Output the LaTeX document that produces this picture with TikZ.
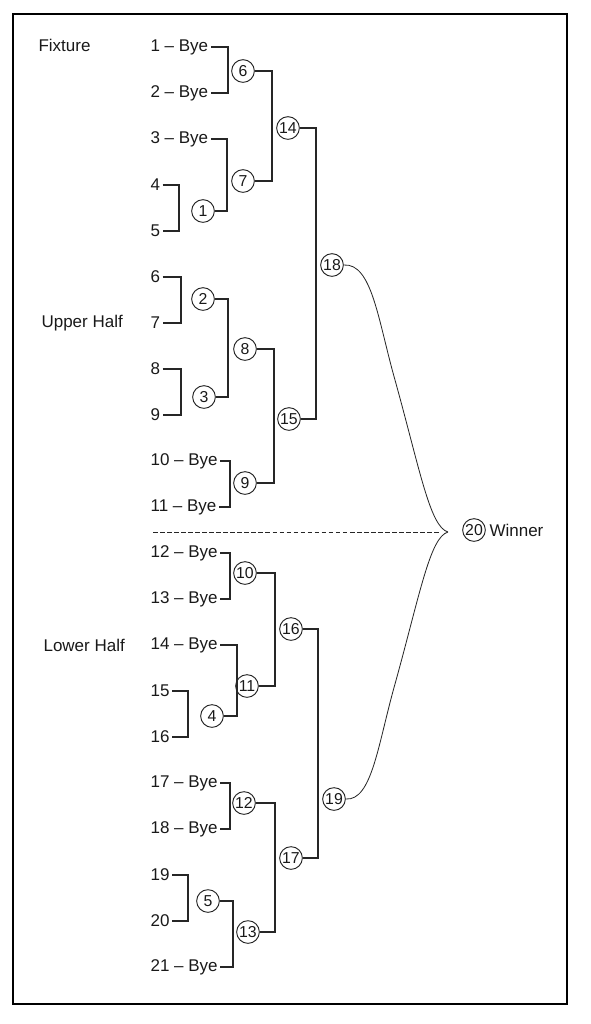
\documentclass[tikz,border=0pt]{standalone}
\usepackage{fontspec}
\setmainfont{Liberation Sans}
\usetikzlibrary{positioning}

\begin{document}
\begin{tikzpicture}[x=0.03cm, y=-0.03cm,
        every node/.style={font=\fontsize{14.5}{17}\selectfont, text=black!90},
        entry/.style={anchor=west, inner sep=2pt},
        game/.style={circle, draw=black!85, line width=0.8pt, minimum size=0.68cm,
                     inner sep=0pt, font=\fontsize{13.5}{15}\selectfont},
        link/.style={line width=0.95pt, draw=black!85}]
        \useasboundingbox (0,0) rectangle (591,1024);

        % Frame
        \draw[line width=1.6pt] (13,14) rectangle (567,1004);

        % Side titles
        \node[entry] (fixture) at (36,45) {Fixture};
        \node[entry] (upper) at (39,323) {Upper Half};
        \node[entry] (lower) at (41,645) {Lower Half};

        % Teams
        \foreach \i/\txt in {1/1 -- Bye, 2/2 -- Bye, 3/3 -- Bye, 4/4, 5/5, 6/6, 7/7, 8/8, 9/9,
                10/10 -- Bye, 11/11 -- Bye, 12/12 -- Bye, 13/13 -- Bye, 14/14 -- Bye,
                15/15, 16/16, 17/17 -- Bye, 18/18 -- Bye, 19/19, 20/20, 21/21 -- Bye}
            \node[entry] (t\i) at (148,{47+46*(\i-1)}) {\txt};

        % Matches
        \foreach \n/\x/\y in {1/203/211, 2/203/299, 3/204/397, 4/212/716, 5/208/901,
                6/243/71, 7/243/181, 8/245/349, 9/245/483, 10/245/573, 11/247/686,
                12/244/803, 13/248/932, 14/288/128, 15/289/419, 16/291/629,
                17/291/858, 18/332/265, 19/334/799, 20/474/530}
            \node[game] (m\n) at (\x,\y) {\n};

        % Upper half brackets
        \draw[link] (t1.east) -- (t1.east -| 228,0) |- (t2.east);
        \draw[link] (t3.east) -- (t3.east -| 227,0) |- (m1.east);
        \draw[link] (t4.east) -- (t4.east -| 179,0) |- (t5.east);
        \draw[link] (m6.east) -- (m6.east -| 272,0) |- (m7.east);
        \draw[link] (m14.east) -- (m14.east -| 316,0) |- (m15.east);
        \draw[link] (t6.east) -- (t6.east -| 181,0) |- (t7.east);
        \draw[link] (t8.east) -- (t8.east -| 181,0) |- (t9.east);
        \draw[link] (m2.east) -- (m2.east -| 228,0) |- (m3.east);
        \draw[link] (m8.east) -- (m8.east -| 274,0) |- (m9.east);
        \draw[link] (t10.east) -- (t10.east -| 230,0) |- (t11.east);

        % Lower half brackets
        \draw[link] (t12.east) -- (t12.east -| 230,0) |- (t13.east);
        \draw[link] (m10.east) -- (m10.east -| 275,0) |- (m11.east);
        \draw[link] (t14.east) -- (t14.east -| 237,0) |- (m4.east);
        \draw[link] (t15.east) -- (t15.east -| 188,0) |- (t16.east);
        \draw[link] (m16.east) -- (m16.east -| 318,0) |- (m17.east);
        \draw[link] (t17.east) -- (t17.east -| 230,0) |- (t18.east);
        \draw[link] (m12.east) -- (m12.east -| 275,0) |- (m13.east);
        \draw[link] (t19.east) -- (t19.east -| 188,0) |- (t20.east);
        \draw[link] (m5.east) -- (m5.east -| 233,0) |- (t21.east);

        % Final
        \coordinate (tip) at (448,532);
        \coordinate (split) at (153,532);
        \draw[link, line width=0.7pt, dash pattern=on 4pt off 2pt, shorten >=8pt] (split) -- (tip);
        \draw[link, line width=0.7pt] (m18.east) .. controls (372,263) and (378,320) .. (395,380)
            .. controls (420,470) and (430,527) .. (tip);
        \draw[link, line width=0.7pt] (m19.east) .. controls (372,801) and (378,744) .. (395,684)
            .. controls (420,594) and (430,537) .. (tip);
        \node[right=1pt of m20, inner sep=2pt] (winner) {Winner};
\end{tikzpicture}
\end{document}
